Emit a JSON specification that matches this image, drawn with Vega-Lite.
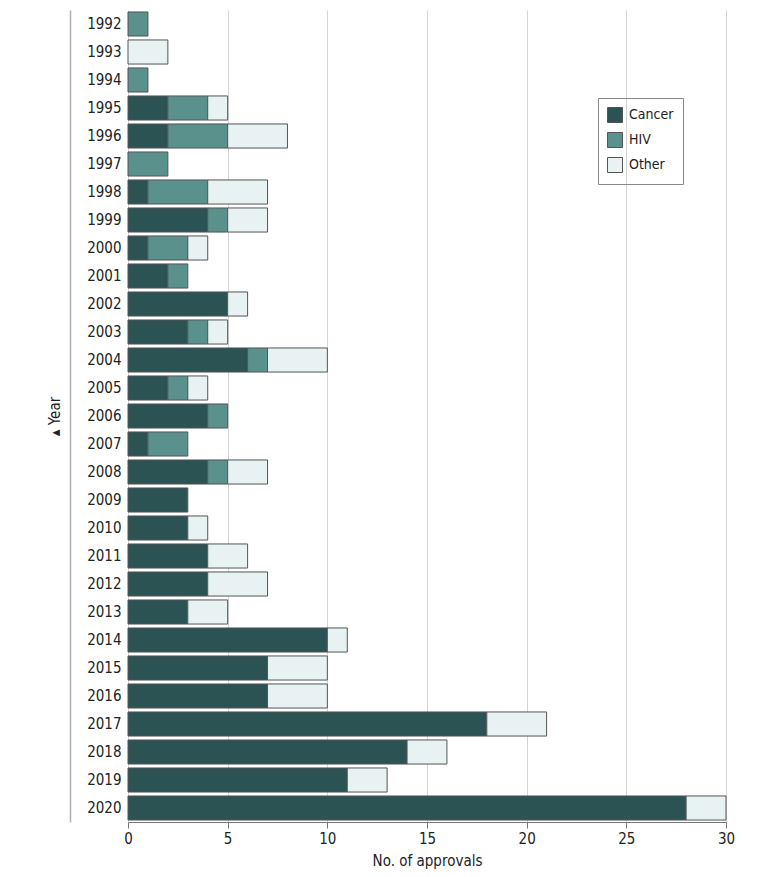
{
  "$schema": "https://vega.github.io/schema/vega-lite/v6.json",
  "autosize": {"type": "none"},
  "width": 598,
  "height": 812,
  "padding": {"left": 128, "top": 10, "right": 54, "bottom": 55},
  "background": "white",
  "config": {
    "font": "Liberation Sans Narrow, DejaVu Sans Condensed",
    "view": {"stroke": null}
  },
  "data": {
    "values": [
      {"year": "1992", "category": "HIV", "count": 1},
      {"year": "1993", "category": "Other", "count": 2},
      {"year": "1994", "category": "HIV", "count": 1},
      {"year": "1995", "category": "Cancer", "count": 2},
      {"year": "1995", "category": "HIV", "count": 2},
      {"year": "1995", "category": "Other", "count": 1},
      {"year": "1996", "category": "Cancer", "count": 2},
      {"year": "1996", "category": "HIV", "count": 3},
      {"year": "1996", "category": "Other", "count": 3},
      {"year": "1997", "category": "HIV", "count": 2},
      {"year": "1998", "category": "Cancer", "count": 1},
      {"year": "1998", "category": "HIV", "count": 3},
      {"year": "1998", "category": "Other", "count": 3},
      {"year": "1999", "category": "Cancer", "count": 4},
      {"year": "1999", "category": "HIV", "count": 1},
      {"year": "1999", "category": "Other", "count": 2},
      {"year": "2000", "category": "Cancer", "count": 1},
      {"year": "2000", "category": "HIV", "count": 2},
      {"year": "2000", "category": "Other", "count": 1},
      {"year": "2001", "category": "Cancer", "count": 2},
      {"year": "2001", "category": "HIV", "count": 1},
      {"year": "2002", "category": "Cancer", "count": 5},
      {"year": "2002", "category": "Other", "count": 1},
      {"year": "2003", "category": "Cancer", "count": 3},
      {"year": "2003", "category": "HIV", "count": 1},
      {"year": "2003", "category": "Other", "count": 1},
      {"year": "2004", "category": "Cancer", "count": 6},
      {"year": "2004", "category": "HIV", "count": 1},
      {"year": "2004", "category": "Other", "count": 3},
      {"year": "2005", "category": "Cancer", "count": 2},
      {"year": "2005", "category": "HIV", "count": 1},
      {"year": "2005", "category": "Other", "count": 1},
      {"year": "2006", "category": "Cancer", "count": 4},
      {"year": "2006", "category": "HIV", "count": 1},
      {"year": "2007", "category": "Cancer", "count": 1},
      {"year": "2007", "category": "HIV", "count": 2},
      {"year": "2008", "category": "Cancer", "count": 4},
      {"year": "2008", "category": "HIV", "count": 1},
      {"year": "2008", "category": "Other", "count": 2},
      {"year": "2009", "category": "Cancer", "count": 3},
      {"year": "2010", "category": "Cancer", "count": 3},
      {"year": "2010", "category": "Other", "count": 1},
      {"year": "2011", "category": "Cancer", "count": 4},
      {"year": "2011", "category": "Other", "count": 2},
      {"year": "2012", "category": "Cancer", "count": 4},
      {"year": "2012", "category": "Other", "count": 3},
      {"year": "2013", "category": "Cancer", "count": 3},
      {"year": "2013", "category": "Other", "count": 2},
      {"year": "2014", "category": "Cancer", "count": 10},
      {"year": "2014", "category": "Other", "count": 1},
      {"year": "2015", "category": "Cancer", "count": 7},
      {"year": "2015", "category": "Other", "count": 3},
      {"year": "2016", "category": "Cancer", "count": 7},
      {"year": "2016", "category": "Other", "count": 3},
      {"year": "2017", "category": "Cancer", "count": 18},
      {"year": "2017", "category": "Other", "count": 3},
      {"year": "2018", "category": "Cancer", "count": 14},
      {"year": "2018", "category": "Other", "count": 2},
      {"year": "2019", "category": "Cancer", "count": 11},
      {"year": "2019", "category": "Other", "count": 2},
      {"year": "2020", "category": "Cancer", "count": 28},
      {"year": "2020", "category": "Other", "count": 2}
    ]
  },
  "mark": {"type": "bar", "stroke": "#555555", "strokeWidth": 1},
  "encoding": {
    "y": {
      "field": "year",
      "type": "ordinal",
      "sort": "ascending",
      "scale": {"paddingInner": 0.14, "paddingOuter": 0.07},
      "axis": {
        "title": "▴ Year",
        "titleFontSize": 15,
        "titleFontWeight": "normal",
        "titleColor": "#222222",
        "titlePadding": 8,
        "offset": 58,
        "domainColor": "#b0b0b0",
        "domainWidth": 1.5,
        "ticks": false,
        "tickSize": 0,
        "labelPadding": -51,
        "labelFontSize": 15,
        "labelColor": "#222222",
        "grid": false
      }
    },
    "x": {
      "field": "count",
      "type": "quantitative",
      "aggregate": "sum",
      "stack": "zero",
      "scale": {"domain": [0, 30], "nice": false},
      "axis": {
        "title": "No. of approvals",
        "titleFontSize": 15,
        "titleFontWeight": "normal",
        "titleColor": "#222222",
        "titlePadding": 7,
        "values": [0, 5, 10, 15, 20, 25, 30],
        "labelFlush": false,
        "domainColor": "#777777",
        "tickColor": "#777777",
        "tickSize": 6,
        "labelPadding": 3,
        "labelFontSize": 15,
        "labelColor": "#222222",
        "grid": true,
        "gridColor": "#d4d4d4",
        "gridWidth": 1
      }
    },
    "color": {
      "field": "category",
      "type": "nominal",
      "scale": {
        "domain": ["Cancer", "HIV", "Other"],
        "range": ["#2c5353", "#5a918c", "#e8f2f3"]
      },
      "legend": {
        "title": null,
        "orient": "none",
        "legendX": 470,
        "legendY": 88,
        "strokeColor": "#888888",
        "padding": 9,
        "symbolType": "square",
        "symbolSize": 225,
        "symbolStrokeColor": "#555555",
        "symbolStrokeWidth": 1,
        "labelFontSize": 14,
        "labelColor": "#222222",
        "labelOffset": 6,
        "rowPadding": 5
      }
    },
    "order": {"field": "category", "sort": "ascending"}
  }
}
